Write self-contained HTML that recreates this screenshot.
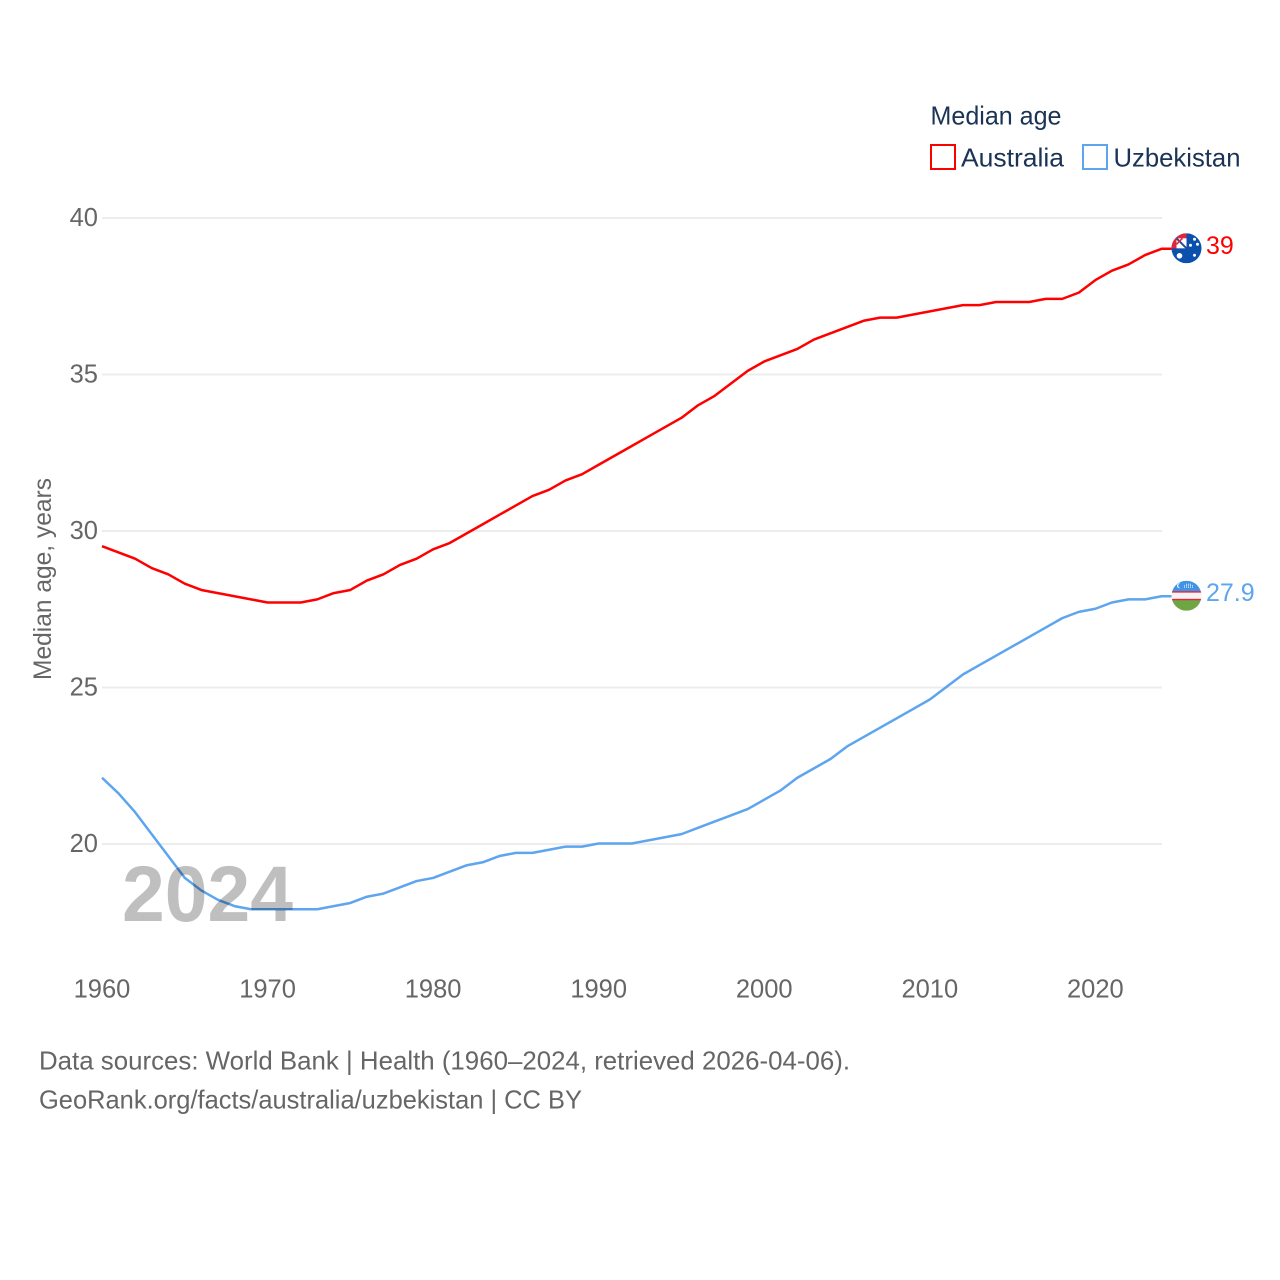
<!DOCTYPE html>
<html lang="en">
<head>
<meta charset="utf-8">
<title>Median age: Australia and Uzbekistan</title>
<style>
html,body{margin:0;padding:0;background:#fff;width:1280px;height:1280px;overflow:hidden}
svg{display:block}
text{font-family:"Liberation Sans",sans-serif}
</style>
</head>
<body>
<svg id="chart" xmlns="http://www.w3.org/2000/svg" width="1280" height="1280" viewBox="0 0 1280 1280">
  <defs>
    <clipPath id="flag-clip"><circle cx="0" cy="0" r="15"></circle></clipPath>
  </defs>
  <g id="grid"></g>
  <g id="yticks"></g>
  <g id="xticks"></g>
  <text transform="translate(51,579) rotate(-90)" text-anchor="middle" font-size="25" fill="#666" textLength="202" lengthAdjust="spacingAndGlyphs">Median age, years</text>
  <g id="series"></g>
  <text x="122" y="921" font-size="79" font-weight="700" fill="#000" fill-opacity="0.25" textLength="171" lengthAdjust="spacingAndGlyphs">2024</text>

  <g id="flag-au">
    <g clip-path="url(#flag-clip)">
      <rect x="-15" y="-15" width="30" height="30" fill="#0b50ac"></rect>
      <rect x="-15" y="-15" width="15" height="15" fill="#e0263c"></rect>
      <rect x="-10" y="-10" width="10" height="10" fill="#fff"></rect>
      <path d="M-10-10L0 0" stroke="#2a4a9a" stroke-width="2"></path>
      <path d="M-10-4L-4-10" stroke="#e0263c" stroke-width="1.500"></path>
      <circle cx="-7" cy="7.500" r="2.800" fill="#fff"></circle>
      <circle cx="8" cy="-9" r="1.500" fill="#fff"></circle>
      <circle cx="4" cy="-3" r="1.500" fill="#fff"></circle>
      <circle cx="11" cy="-4" r="1.500" fill="#fff"></circle>
      <circle cx="8" cy="7" r="1.500" fill="#fff"></circle>
    </g>
  </g>
  <g id="flag-uz">
    <g clip-path="url(#flag-clip)">
      <rect x="-15" y="-15" width="30" height="11" fill="#3f94e6"></rect>
      <rect x="-15" y="-4" width="30" height="8" fill="#f4f4f4"></rect>
      <rect x="-15" y="4" width="30" height="11" fill="#6fa644"></rect>
      <rect x="-15" y="-4.500" width="30" height="1.400" fill="#e8233c"></rect>
      <rect x="-15" y="3.100" width="30" height="1.400" fill="#e8233c"></rect>
      <circle cx="-7" cy="-10" r="2.500" fill="#fff"></circle>
      <circle cx="-6" cy="-10" r="2.300" fill="#3f94e6"></circle>
      <path d="M-2-8v-3M0-8v-4M2-8v-4M4-8v-4M6-8v-3" stroke="#dfeefc" stroke-width="1" stroke-dasharray="1 .5"></path>
    </g>
  </g>
  <g id="value-labels"></g>

  <g>
    <text x="930.500" y="124.500" font-size="26" fill="#1b3354" textLength="131" lengthAdjust="spacingAndGlyphs">Median age</text>
    <g>
      <rect x="931" y="145" width="24" height="24" fill="#fff" stroke="#ff0000" stroke-width="2"></rect>
      <text x="961" y="166.500" font-size="26" fill="#1b3354" textLength="103" lengthAdjust="spacingAndGlyphs">Australia</text>
    </g>
    <g>
      <rect x="1083" y="145" width="24" height="24" fill="#fff" stroke="#5da5ee" stroke-width="2"></rect>
      <text x="1113.500" y="166.500" font-size="26" fill="#1b3354" textLength="127" lengthAdjust="spacingAndGlyphs">Uzbekistan</text>
    </g>
  </g>

  <g>
    <text x="39" y="1069.500" font-size="26" fill="#666" textLength="811" lengthAdjust="spacingAndGlyphs">Data sources: World Bank | Health (1960–2024, retrieved 2026-04-06).</text>
    <text x="39" y="1108.500" font-size="26" fill="#666" textLength="543" lengthAdjust="spacingAndGlyphs">GeoRank.org/facts/australia/uzbekistan | CC BY</text>
  </g>
</svg>
<script>
const startYear = 1960;
const endYear = 2024;
const yTickValues = [20, 25, 30, 35, 40];
const xTickYears = [1960, 1970, 1980, 1990, 2000, 2010, 2020];
const australiaValues = [29.5,29.3,29.1,28.8,28.6,28.3,28.1,28.0,27.9,27.8,27.7,27.7,27.7,27.8,28.0,28.1,28.4,28.6,28.9,29.1,29.4,29.6,29.9,30.2,30.5,30.8,31.1,31.3,31.6,31.8,32.1,32.4,32.7,33.0,33.3,33.6,34.0,34.3,34.7,35.1,35.4,35.6,35.8,36.1,36.3,36.5,36.7,36.8,36.8,36.9,37.0,37.1,37.2,37.2,37.3,37.3,37.3,37.4,37.4,37.6,38.0,38.3,38.5,38.8,39.0];
const uzbekistanValues = [22.1,21.6,21.0,20.3,19.6,18.9,18.5,18.2,18.0,17.9,17.9,17.9,17.9,17.9,18.0,18.1,18.3,18.4,18.6,18.8,18.9,19.1,19.3,19.4,19.6,19.7,19.7,19.8,19.9,19.9,20.0,20.0,20.0,20.1,20.2,20.3,20.5,20.7,20.9,21.1,21.4,21.7,22.1,22.4,22.7,23.1,23.4,23.7,24.0,24.3,24.6,25.0,25.4,25.7,26.0,26.3,26.6,26.9,27.2,27.4,27.5,27.7,27.8,27.8,27.9];
const australiaLabel = '39';
const uzbekistanLabel = '27.9';

const NS = 'http://www.w3.org/2000/svg';
const X0 = 102, X1 = 1161.6;
const Y20 = 844, PX_PER_UNIT = 31.3;
const AU_COLOR = '#ff0000', UZ_COLOR = '#5da5ee';
const FLAG_X = 1186.5, LABEL_X = 1206;
const LINE_OFFSET = -0.5, FLAG_OFFSET = -1;

function xScale(year) {
  return X0 + (year - startYear) * (X1 - X0) / (endYear - startYear);
}
function yScale(v) {
  return Y20 - (v - 20) * PX_PER_UNIT;
}
function make(tag, attrs, parent) {
  const el = document.createElementNS(NS, tag);
  for (const k in attrs) el.setAttribute(k, attrs[k]);
  parent.appendChild(el);
  return el;
}

const gridG = document.getElementById('grid');
const yG = document.getElementById('yticks');
const xG = document.getElementById('xticks');
const seriesG = document.getElementById('series');
const labelsG = document.getElementById('value-labels');

yTickValues.forEach(function (v) {
  const line = make('line', { x1: X0, x2: 1162, y1: yScale(v), y2: yScale(v), stroke: '#ececec', 'stroke-width': 2 }, gridG);
  
  
  const t = make('text', { x: 98, y: yScale(v) + 8, 'text-anchor': 'end', 'font-size': 25.5, fill: '#666' }, yG);
  t.textContent = String(v);
  
  
});

xTickYears.forEach(function (yr) {
  const t = make('text', { x: xScale(yr), y: 997.5, 'text-anchor': 'middle', 'font-size': 25.5, fill: '#666' }, xG);
  t.textContent = String(yr);
  
  
});

function drawSeries(values, color, flagId, labelText) {
  const d = values.map(function (v, i) {
    return (i ? 'L' : 'M') + xScale(startYear + i).toFixed(2) + ' ' + (yScale(v) + LINE_OFFSET).toFixed(2);
  }).join('');
  const last = values[values.length - 1];
  const path = make('path', { d: d + 'L' + (FLAG_X - 15) + ' ' + (yScale(last) + LINE_OFFSET).toFixed(2), fill: 'none', stroke: color, 'stroke-width': 2.5, 'stroke-linejoin': 'round' }, seriesG);
  
  
  document.getElementById(flagId).setAttribute('transform', 'translate(' + FLAG_X + ',' + (yScale(last) + FLAG_OFFSET).toFixed(2) + ')');
  const t = make('text', { x: LABEL_X, y: yScale(last) + 4.5, 'font-size': 25, fill: color }, labelsG);
  t.textContent = labelText;
  
  
}

drawSeries(australiaValues, AU_COLOR, 'flag-au', australiaLabel);
drawSeries(uzbekistanValues, UZ_COLOR, 'flag-uz', uzbekistanLabel);
</script>
</body>
</html>
